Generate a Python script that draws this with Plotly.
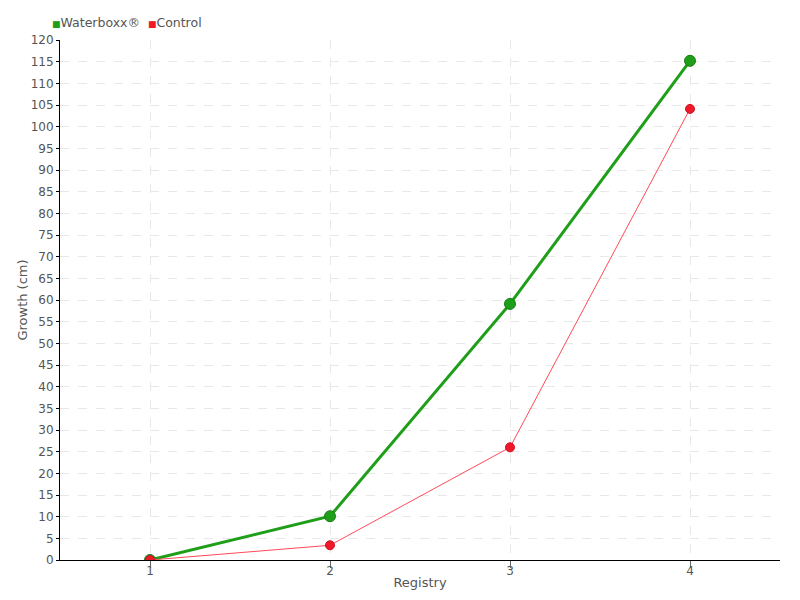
import plotly.graph_objects as go

registry = [1, 2, 3, 4]
waterboxx = [0, 10.1, 59.1, 115.2]
control = [0, 3.4, 26.0, 104.1]
y_ticks = list(range(0, 121, 5))
series_names = ["Waterboxx®", "Control"]

green = "#1f9e1a"
red = "#f0192a"
text_col = "#555555"

fig = go.Figure()
fig.add_trace(go.Scatter(
    x=registry, y=waterboxx, mode="lines+markers", name=series_names[0],
    line=dict(color=green, width=3),
    marker=dict(size=11, color=green, line=dict(color="#187d14", width=1)),
    showlegend=False,
))
fig.add_trace(go.Scatter(
    x=registry, y=control, mode="lines+markers", name=series_names[1],
    line=dict(color="#ff4a58", width=1),
    marker=dict(size=9, color=red, line=dict(color="#d01020", width=1)),
    showlegend=False,
))

# compact legend (square swatches immediately followed by text)
fig.add_annotation(
    xref="paper", yref="paper", x=-0.0139, y=1.0346, xanchor="left", yanchor="middle",
    showarrow=False, align="left",
    text=(f'<span style="color:{green};font-size:9px">■</span>{series_names[0]}'
          f'  <span style="color:{red};font-size:9px">■</span>{series_names[1]}'),
    font=dict(size=12.5, color=text_col),
)

# page has an 8px body margin; margins compensate so the plot area sits at 60..780 x 40..560
fig.update_layout(
    width=800, height=600,
    margin=dict(l=52, r=28, t=32, b=48, autoexpand=False),
    paper_bgcolor="white", plot_bgcolor="white",
    font=dict(family="DejaVu Sans, sans-serif", size=12, color=text_col),
    showlegend=False,
    xaxis=dict(
        range=[0.5, 4.5], tickmode="array", tickvals=registry, ticktext=[str(r) for r in registry],
        showgrid=True, gridcolor="#e8e8e8", griddash="dash", gridwidth=1,
        showline=True, linecolor="black", linewidth=1,
        ticks="outside", ticklen=7, tickcolor="#666666",
        ticklabelstandoff=-7,
        zeroline=False, automargin=False,
        title=dict(text="Registry", standoff=0, font=dict(size=13)),
    ),
    yaxis=dict(
        range=[0, 120], tickmode="array", tickvals=y_ticks,
        showgrid=True, gridcolor="#e8e8e8", griddash="dash", gridwidth=1,
        showline=True, linecolor="black", linewidth=1,
        ticks="outside", ticklen=3, tickcolor="black",
        zeroline=False, automargin=False,
        title=dict(text="Growth (cm)", standoff=0, font=dict(size=13)),
    ),
)

fig.write_html("out.html")
